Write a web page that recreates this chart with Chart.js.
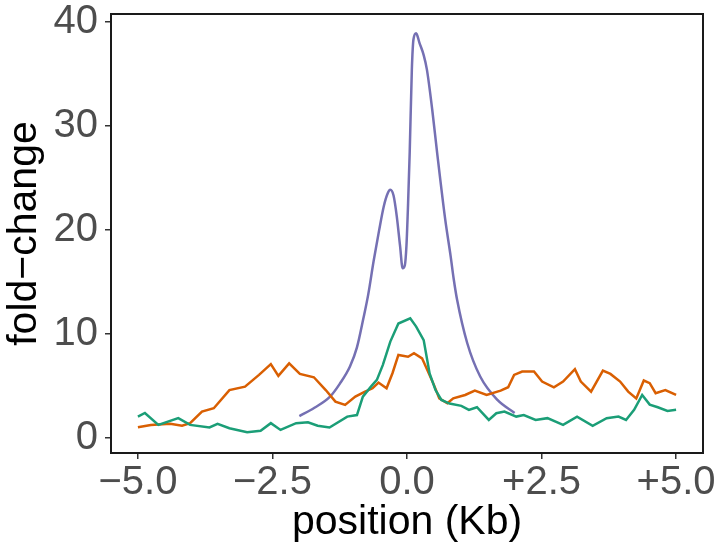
<!DOCTYPE html>
<html>
<head>
<meta charset="utf-8">
<script src="https://cdn.jsdelivr.net/npm/chart.js@4/dist/chart.umd.min.js"></script>
<style>
  html, body { margin: 0; padding: 0; background: #fff; }
  canvas { display: block; }
</style>
</head>
<body>
<canvas id="chart" width="715" height="549"></canvas>
<script>
// tick positions (Kb) and fold-change ticks
const xTicks = [-5, -2.5, 0, 2.5, 5];
const yTicks = [0, 10, 20, 30, 40];

// green series
const greenX = [-5.0,-4.87,-4.62,-4.25,-4.03,-3.67,-3.52,-3.30,-2.97,-2.72,-2.53,-2.35,-2.06,-1.84,-1.66,-1.44,-1.11,-0.93,-0.82,-0.67,-0.56,-0.45,-0.31,-0.16,0.06,0.17,0.31,0.42,0.53,0.64,0.79,1.01,1.15,1.30,1.52,1.66,1.81,2.03,2.17,2.39,2.61,2.90,3.16,3.45,3.71,3.93,4.07,4.22,4.37,4.51,4.66,4.84,5.0];
const greenY = [2.05,2.4,1.25,1.9,1.25,1.0,1.35,0.93,0.55,0.68,1.42,0.77,1.42,1.5,1.17,1.0,2.05,2.2,3.97,4.93,5.58,7.0,9.26,11.0,11.5,10.7,9.4,6.2,4.6,3.65,3.3,3.08,2.7,2.95,1.73,2.37,2.53,2.05,2.2,1.73,1.9,1.25,2.05,1.17,1.9,2.05,1.73,2.7,4.13,3.2,2.95,2.6,2.7];

// orange series
const orangeX = [-5.0,-4.76,-4.40,-4.18,-4.03,-3.81,-3.59,-3.30,-3.01,-2.75,-2.53,-2.39,-2.19,-1.99,-1.73,-1.51,-1.33,-1.15,-0.96,-0.78,-0.64,-0.53,-0.38,-0.27,-0.16,0.02,0.13,0.28,0.39,0.50,0.60,0.75,0.86,1.08,1.26,1.48,1.74,1.88,1.99,2.14,2.36,2.51,2.73,2.90,3.12,3.23,3.42,3.64,3.78,3.96,4.11,4.26,4.40,4.51,4.62,4.80,5.0];
const orangeY = [1.03,1.25,1.35,1.17,1.42,2.53,2.85,4.6,4.93,6.06,7.1,5.96,7.16,6.15,5.83,4.6,3.49,3.17,3.97,4.45,4.77,5.32,4.77,6.22,7.98,7.8,8.15,7.65,6.38,5.1,3.8,3.33,3.8,4.13,4.55,4.13,4.55,4.87,6.06,6.38,6.38,5.42,4.87,5.42,6.6,5.42,4.45,6.47,6.15,5.42,4.45,3.8,5.52,5.26,4.3,4.6,4.13];

// purple series
const purpleX = [-2.0,-1.72,-1.43,-1.25,-1.06,-0.93,-0.81,-0.72,-0.62,-0.52,-0.43,-0.36,-0.31,-0.25,-0.19,-0.13,-0.08,-0.04,-0.01,0.02,0.05,0.09,0.12,0.17,0.23,0.31,0.37,0.47,0.56,0.71,0.81,0.87,0.93,1.12,1.36,1.68,2.0];
const purpleY = [2.1,2.9,3.97,5.2,6.86,8.7,11.5,13.8,17.0,19.9,22.3,23.5,23.85,23.3,21.3,18.5,16.3,16.6,18.5,22.5,27.4,35.4,38.3,38.9,38.0,36.8,35.4,31.5,27.4,21.0,17.5,15.2,13.3,9.1,5.9,3.65,2.4];

function toPoints(xs, ys) {
  return xs.map((x, i) => ({ x: x, y: ys[i] }));
}

function fmtX(v) {
  const s = Math.abs(v).toFixed(1);
  if (v > 0) return '+' + s;
  if (v < 0) return '\u2212' + s;
  return s;
}

// box around the panel, like ggplot's theme_bw border
const panelBox = {
  id: 'panelBox',
  afterDatasetsDraw(chart) {
    const a = chart.chartArea;
    const ctx = chart.ctx;
    ctx.save();
    ctx.strokeStyle = '#1a1a1a';
    ctx.lineWidth = 2;
    ctx.strokeRect(a.left, a.top, a.right - a.left, a.bottom - a.top);
    ctx.restore();
  }
};

const font = "'Liberation Sans', Arial, sans-serif";

const ctx = document.getElementById('chart').getContext('2d');
new Chart(ctx, {
  type: 'line',
  data: {
    datasets: [
      { data: toPoints(greenX, greenY), borderColor: '#1B9E77', borderWidth: 2.5, pointRadius: 0, tension: 0 },
      { data: toPoints(orangeX, orangeY), borderColor: '#D95F02', borderWidth: 2.5, pointRadius: 0, tension: 0 },
      { data: toPoints(purpleX, purpleY), borderColor: '#7570B3', borderWidth: 2.5, pointRadius: 0, cubicInterpolationMode: 'monotone' }
    ]
  },
  options: {
    responsive: false,
    animation: false,
    devicePixelRatio: 1,
    layout: { padding: { top: 14, right: 12, left: 0, bottom: 0 } },
    plugins: { legend: { display: false }, tooltip: { enabled: false } },
    scales: {
      x: {
        type: 'linear',
        min: -5.5,
        max: 5.5,
        afterBuildTicks: (scale) => { scale.ticks = xTicks.map(v => ({ value: v })); },
        afterFit: (scale) => { scale.height = 96; scale.paddingLeft = 0; scale.paddingRight = 0; },
        grid: { drawOnChartArea: false, drawTicks: true, tickLength: 6, color: '#333333', lineWidth: 1.5 },
        border: { display: false },
        ticks: { color: '#4D4D4D', font: { family: font, size: 40 }, padding: 0, maxRotation: 0, callback: (v) => fmtX(v) },
        title: { display: true, text: 'position (Kb)', color: '#000', font: { family: font, size: 41 }, padding: { top: 0, bottom: 2 } }
      },
      y: {
        min: -1.45,
        max: 40.75,
        afterBuildTicks: (scale) => { scale.ticks = yTicks.map(v => ({ value: v })); },
        afterFit: (scale) => { scale.width = 111; scale.paddingTop = 0; scale.paddingBottom = 0; },
        grid: { drawOnChartArea: false, drawTicks: true, tickLength: 6, color: '#333333', lineWidth: 1.5 },
        border: { display: false },
        ticks: { color: '#4D4D4D', font: { family: font, size: 40 }, padding: 7 },
        title: { display: true, text: 'fold\u2212change', color: '#000', font: { family: font, size: 41 }, padding: { top: 0, bottom: 0 } }
      }
    }
  },
  plugins: [panelBox]
});
</script>
</body>
</html>
